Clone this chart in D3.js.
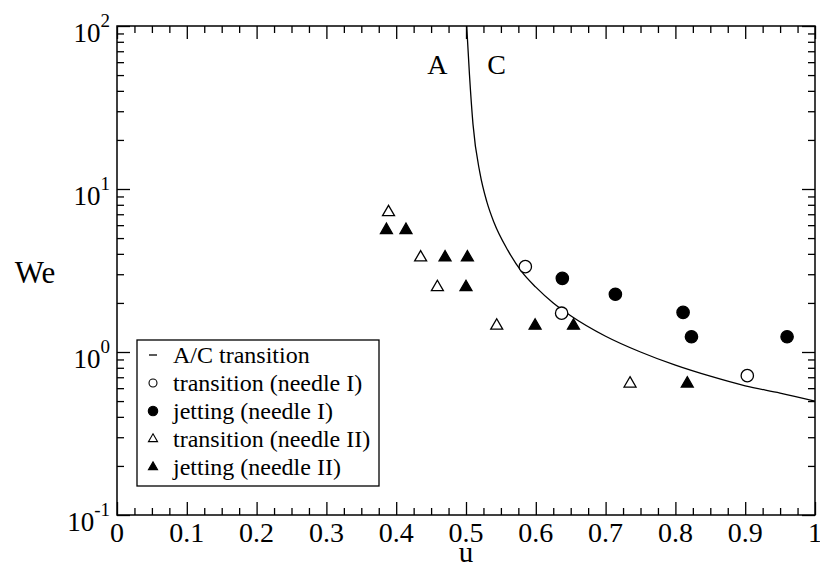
<!DOCTYPE html>
<html>
<head>
<meta charset="utf-8">
<script src="https://cdn.jsdelivr.net/npm/d3@7"></script>
<style>
  body { margin: 0; background: #fff; }
  svg { display: block; font-family: "Liberation Serif", "Times New Roman", serif; }
  .axis path { display: none; }
  .axis line { stroke: #000; stroke-width: 1.3; }
</style>
</head>
<body>
<svg id="chart" width="820" height="564"></svg>
<script>
// tick labels
const xTicks = [0, 0.1, 0.2, 0.3, 0.4, 0.5, 0.6, 0.7, 0.8, 0.9, 1];
const xTickLabels = ["0", "0.1", "0.2", "0.3", "0.4", "0.5", "0.6", "0.7", "0.8", "0.9", "1"];
const yTicks = [0.1, 1, 10, 100];
const yTickExps = ["-1", "0", "1", "2"];

// A/C transition curve
const curveU = [0.501, 0.505, 0.51, 0.52, 0.53, 0.54, 0.56, 0.58, 0.6, 0.625, 0.65, 0.7, 0.75, 0.8, 0.85, 0.9, 0.95, 1.0];
const curveWe = [100, 50, 25, 12.5, 8.3, 6.25, 4.2, 3.1, 2.5, 2.0, 1.67, 1.25, 1.0, 0.83, 0.71, 0.62, 0.56, 0.5];

// transition (needle I)
const transIU = [0.585, 0.637, 0.903];
const transIWe = [3.34, 1.73, 0.716];
// jetting (needle I)
const jetIU = [0.638, 0.714, 0.811, 0.823, 0.960];
const jetIWe = [2.83, 2.26, 1.75, 1.24, 1.24];
// transition (needle II)
const transIIU = [0.389, 0.435, 0.459, 0.544, 0.735];
const transIIWe = [7.2, 3.8, 2.5, 1.45, 0.64];
// jetting (needle II)
const jetIIU = [0.386, 0.414, 0.470, 0.502, 0.500, 0.599, 0.654, 0.817];
const jetIIWe = [5.6, 5.6, 3.8, 3.8, 2.5, 1.45, 1.45, 0.64];

const legendLabels = ["A/C transition", "transition (needle I)", "jetting (needle I)", "transition (needle II)", "jetting (needle II)"];

const svg = d3.select("#chart");
const margin = { left: 117, top: 26 };
const width = 698;
const height = 489;

const x = d3.scaleLinear().domain([0, 1]).range([0, width]);
const y = d3.scaleLog().domain([0.1, 100]).range([height, 0]);

const chart = svg.append("g")
  .attr("transform", `translate(${margin.left}, ${margin.top})`);

const xMinor = d3.range(0, 1.0001, 0.025).filter((v, i) => i % 4 !== 0);
const yMinor = [];
[0.1, 1, 10].forEach(d => { for (let k = 2; k <= 9; k++) yMinor.push(d * k); });

// ticks on all four sides, pointing inward
const addTicks = (axisFn, scale, values, size, transform) => {
  chart.append("g")
    .attr("class", "axis")
    .attr("transform", transform)
    .call(axisFn(scale).tickValues(values).tickSize(-size).tickSizeOuter(0).tickFormat(""));
};
addTicks(d3.axisBottom, x, xTicks, 13, `translate(0, ${height})`);
addTicks(d3.axisBottom, x, xMinor, 7, `translate(0, ${height})`);
addTicks(d3.axisTop, x, xTicks, 13, "translate(0, 0)");
addTicks(d3.axisTop, x, xMinor, 7, "translate(0, 0)");
addTicks(d3.axisLeft, y, yTicks, 13, "translate(0, 0)");
addTicks(d3.axisLeft, y, yMinor, 7, "translate(0, 0)");
addTicks(d3.axisRight, y, yTicks, 13, `translate(${width}, 0)`);
addTicks(d3.axisRight, y, yMinor, 7, `translate(${width}, 0)`);

chart.append("rect")
  .attr("width", width)
  .attr("height", height)
  .attr("fill", "none")
  .attr("stroke", "#000")
  .attr("stroke-width", 1.5);

// x tick labels
chart.append("g")
  .selectAll("text")
  .data(xTicks)
  .enter()
  .append("text")
  .attr("x", d => x(d))
  .attr("y", height + 26.5)
  .attr("text-anchor", "middle")
  .attr("font-size", 28)
  .text((d, i) => xTickLabels[i]);

// y tick labels (10^n)
const yLab = chart.append("g")
  .selectAll("text")
  .data(yTicks)
  .enter()
  .append("text")
  .attr("x", -7)
  .attr("y", d => y(d) + 16)
  .attr("text-anchor", "end");
yLab.append("tspan").attr("font-size", 27).text("10");
yLab.append("tspan")
  .attr("font-size", 19)
  .attr("dy", -15)
  .text((d, i) => yTickExps[i]);

// axis titles
svg.append("text")
  .attr("x", 35)
  .attr("y", 283)
  .attr("text-anchor", "middle")
  .attr("font-size", 31)
  .text("We");
svg.append("text")
  .attr("x", margin.left + x(0.5))
  .attr("y", 562)
  .attr("text-anchor", "middle")
  .attr("font-size", 29)
  .text("u");

// region labels
chart.append("text")
  .attr("x", x(0.459)).attr("y", y(50.8))
  .attr("text-anchor", "middle").attr("font-size", 28).text("A");
chart.append("text")
  .attr("x", x(0.544)).attr("y", y(50.8))
  .attr("text-anchor", "middle").attr("font-size", 28).text("C");

// curve
chart.append("clipPath").attr("id", "clip")
  .append("rect").attr("width", width).attr("height", height);

const line = d3.line()
  .x((d, i) => x(curveU[i]))
  .y(d => y(d))
  .curve(d3.curveMonotoneX);

chart.append("path")
  .attr("clip-path", "url(#clip)")
  .attr("d", line(curveWe))
  .attr("fill", "none")
  .attr("stroke", "#000")
  .attr("stroke-width", 1.3);

// symbols
const circleSym = d3.symbol().type(d3.symbolCircle);
const triSym = d3.symbol().type(d3.symbolTriangle);

const addPoints = (us, wes, sym, size, filled) => {
  chart.append("g")
    .selectAll("path")
    .data(wes)
    .enter()
    .append("path")
    .attr("transform", (d, i) => `translate(${x(us[i])}, ${y(d)})`)
    .attr("d", sym.size(size)())
    .attr("fill", filled ? "#000" : "#fff")
    .attr("stroke", "#000")
    .attr("stroke-width", 1.3);
};
addPoints(transIU, transIWe, circleSym, 120, false);
addPoints(jetIU, jetIWe, circleSym, 120, true);
addPoints(transIIU, transIIWe, triSym, 62, false);
addPoints(jetIIU, jetIIWe, triSym, 62, true);

// legend
const legend = svg.append("g").attr("transform", "translate(137, 340)");
legend.append("rect")
  .attr("width", 242)
  .attr("height", 146)
  .attr("fill", "#fff")
  .attr("stroke", "#000")
  .attr("stroke-width", 1.3);

const rowY = i => 15 + i * 28;
const items = legend.selectAll("g.item")
  .data(legendLabels)
  .enter()
  .append("g")
  .attr("class", "item")
  .attr("transform", (d, i) => `translate(0, ${rowY(i)})`);

items.append("text")
  .attr("x", 36)
  .attr("y", 8)
  .attr("font-size", 24)
  .text(d => d);

items.each(function (d, i) {
  const g = d3.select(this);
  if (i === 0) {
    g.append("line").attr("x1", 12).attr("x2", 20).attr("y1", 0).attr("y2", 0)
      .attr("stroke", "#000").attr("stroke-width", 1.3);
    return;
  }
  const sym = i <= 2 ? d3.symbol().type(d3.symbolCircle).size(i === 1 ? 50 : 70)
                     : d3.symbol().type(d3.symbolTriangle).size(36);
  g.append("path")
    .attr("transform", "translate(16, 0)")
    .attr("d", sym())
    .attr("fill", (i === 2 || i === 4) ? "#000" : "#fff")
    .attr("stroke", "#000")
    .attr("stroke-width", 1.1);
});
</script>
</body>
</html>
